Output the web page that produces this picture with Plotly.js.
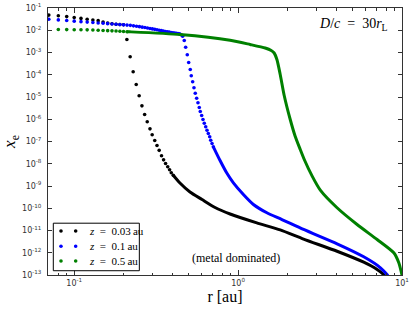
<!DOCTYPE html>
<html>
<head>
<meta charset="utf-8">
<script src="https://cdn.plot.ly/plotly-3.0.1.min.js"></script>
<style>html,body{margin:0;padding:0;background:#fff;}#chart{width:415px;height:313px;}</style>
</head>
<body>
<div id="chart"></div>
<script>
// ---- data (r in au, x_e) ----
// z = 0.03 au : separated dots, then dense (solid-looking) part
const blackDotR = [0.07,0.08,0.09,0.10,0.11,0.12,0.13,0.14,0.15,0.16,0.17,0.18,0.19,0.20,
                   0.2096,0.2195,0.229,0.239,0.249,0.259,0.269,0.279,0.290,0.299,0.310,0.320,0.330,
                   0.341,0.351,0.361,0.372,0.382,0.391,0.402];
const blackDotX = [0.048,0.045,0.041,0.037,0.034,0.031,0.029,0.027,0.0235,0.021,0.0195,0.0186,0.0180,0.0176,
                   3.84e-3,6.4e-4,1.36e-4,3.65e-5,1.13e-5,4.0e-6,1.63e-6,7.7e-7,3.7e-7,2.0e-7,1.11e-7,6.6e-8,4.0e-8,
                   2.3e-8,1.5e-8,1.03e-8,7.3e-9,5.35e-9,3.92e-9,3.05e-9];
const blackLineR = [0.402,0.4418,0.5086,0.6023,0.7234,0.8935,1.301,1.807,2.508,4.016,5.84,7.05,7.74,8.0];
const blackLineX = [3.05e-9,1.36e-9,5.37e-10,2.47e-10,1.08e-10,5.52e-11,2.2e-11,1.06e-11,4.1e-12,1.17e-12,3.76e-13,1.77e-13,1.02e-13,7e-14];

// z = 0.1 au
const blueDotR = [0.07,0.08,0.09,0.10,0.11,0.12,0.13,0.14,0.15,0.16,0.17,0.18,0.19,0.20,
                  0.21,0.22,0.23,0.24,0.25,0.26,0.27,0.28,0.29,0.30,0.31,0.32,0.33,0.34,0.35,
                  0.36,0.37,0.38,0.39,0.40,0.41,0.42,0.43,0.44,0.45,
                  0.4588,0.4694,0.4787,0.4896,0.4994,0.5106,0.5178,0.5281,0.5379,0.5478,0.5587,0.5691,
                  0.5796,0.5878,0.5995,0.6106,0.6219,0.6343,0.6460,0.6579,0.6711,0.6808,0.6934,0.7062];
const blueDotX = [0.0314,0.0292,0.0273,0.0257,0.0244,0.0232,0.0222,0.0213,0.0205,0.0198,0.0191,0.0185,0.0179,0.0175,
                  0.0170,0.0166,0.0158,0.0151,0.0145,0.0138,0.0132,0.0126,0.0120,0.0115,0.0110,0.0105,0.0100,0.0096,0.0091,
                  0.0088,0.0085,0.0082,0.0079,0.0077,0.0075,0.0073,0.0071,0.0069,0.0063,
                  5.41e-3,3.46e-3,1.73e-3,7.88e-4,3.56e-4,1.72e-4,8.97e-5,4.82e-5,2.59e-5,1.48e-5,8.84e-6,5.49e-6,
                  3.37e-6,2.23e-6,1.47e-6,9.75e-7,6.64e-7,4.58e-7,3.22e-7,2.29e-7,1.63e-7,1.14e-7,8.12e-8,5.78e-8];
const blueLineR = [0.7062,0.776,0.853,0.936,1.077,1.24,1.498,1.851,2.508,4.016,5.84,7.39,8.12,8.4];
const blueLineX = [5.78e-8,1.40e-8,3.84e-9,1.39e-9,4.15e-10,1.48e-10,6.25e-11,3.12e-11,1.11e-11,2.52e-12,6.57e-13,2.11e-13,1.02e-13,7e-14];

// z = 0.5 au
const greenDotR = [0.08,0.09,0.10,0.11,0.12,0.13,0.14,0.15,0.16,0.17,0.18,0.19,0.20,0.21];
const greenDotX = [0.0108,0.0107,0.0106,0.0105,0.0104,0.0102,0.0100,0.0098,0.0096,0.0094,0.0092,0.0090,0.0088,0.0086];
const greenLineR = [0.21,0.2184,0.4418,0.8935,1.184,1.463,1.592,1.66,1.725,1.807,1.911,2.080,2.232,2.394,2.533,2.836,3.174,4.016,5.32,7.05,8.91,9.56,10.0];
const greenLineX = [0.0086,0.0085,6.44e-3,3.57e-3,2.29e-3,1.59e-3,1.23e-3,9.5e-4,4.84e-4,1.03e-4,1.17e-5,9.75e-7,1.68e-7,4.37e-8,1.55e-8,2.7e-9,6.5e-10,1.05e-10,1.86e-11,3.94e-12,9.95e-13,3.53e-13,1.0e-13];

const seriesNames = ['<i>z</i>\u2002=\u20020.03\u2009au','<i>z</i>\u2002=\u20020.1\u2009au','<i>z</i>\u2002=\u20020.5\u2009au'];
const seriesColors = ['#000000','#0000ff','#008000'];

const xTickVals = [0.1,1,10];
const xTickText = ['10<sup>-1</sup>','10<sup>0</sup>','10<sup>1</sup>'];
const xMinorVals = [0.08,0.09,0.2,0.3,0.4,0.5,0.6,0.7,0.8,0.9,2,3,4,5,6,7,8,9];
const yTickVals = [1e-1,1e-2,1e-3,1e-4,1e-5,1e-6,1e-7,1e-8,1e-9,1e-10,1e-11,1e-12,1e-13];
const yTickText = ['10<sup>-1</sup>','10<sup>-2</sup>','10<sup>-3</sup>','10<sup>-4</sup>','10<sup>-5</sup>','10<sup>-6</sup>','10<sup>-7</sup>','10<sup>-8</sup>','10<sup>-9</sup>','10<sup>-10</sup>','10<sup>-11</sup>','10<sup>-12</sup>','10<sup>-13</sup>'];

const SERIF = 'Liberation Serif, Times New Roman, DejaVu Serif, serif';

const dots = [[blackDotR,blackDotX],[blueDotR,blueDotX],[greenDotR,greenDotX]];
const lines = [[blackLineR,blackLineX],[blueLineR,blueLineX],[greenLineR,greenLineX]];

const traces = [];
for (let i = 0; i < 3; i++) {
  traces.push({x: lines[i][0], y: lines[i][1], type:'scatter', mode:'lines',
    line:{color:seriesColors[i], width:3, shape:'spline', smoothing:0.6}, showlegend:false, hoverinfo:'skip'});
  traces.push({x: dots[i][0], y: dots[i][1], type:'scatter', mode:'markers', name: seriesNames[i],
    marker:{color:seriesColors[i], size:3.6}, showlegend:false});
}

// hand-drawn legend (matplotlib style: box, two dots per entry, text)
const legX0 = 0.015, legX1 = 0.258, legY0 = 0.016, legY1 = 0.194;
const legRowY = [0.165, 0.1075, 0.0524];
const legDotX = [0.0367, 0.0782];
const legTextX = 0.110;

const shapes = [{type:'rect', xref:'paper', yref:'paper', x0:legX0, x1:legX1, y0:legY0, y1:legY1,
  line:{color:'#000', width:1}, fillcolor:'#ffffff', layer:'above'}];
const annotations = [];
for (let i = 0; i < 3; i++) {
  for (const dx of legDotX) {
    shapes.push({type:'circle', xref:'paper', yref:'paper', xsizemode:'pixel', ysizemode:'pixel',
      xanchor:dx, yanchor:legRowY[i], x0:-1.8, x1:1.8, y0:-1.8, y1:1.8,
      fillcolor:seriesColors[i], line:{width:0}, layer:'above'});
  }
  annotations.push({xref:'paper', yref:'paper', x:legTextX, y:legRowY[i], xanchor:'left', yanchor:'middle',
    showarrow:false, text:seriesNames[i], font:{family:SERIF, size:11, color:'#000'}});
}
annotations.push(
  {xref:'paper', yref:'paper', x:0.862, y:0.938, xanchor:'center', yanchor:'middle', showarrow:false,
   text:'<i>D</i>/<i>c</i>\u2002=\u200230<i>r</i><sub>L</sub>', font:{family:SERIF, size:14, color:'#000'}},
  {xref:'paper', yref:'paper', x:0.531, y:0.062, xanchor:'center', yanchor:'middle', showarrow:false,
   text:'(metal dominated)', font:{family:SERIF, size:12, color:'#000'}}
);

const axisCommon = {
  showgrid:false, zeroline:false, showline:true, linecolor:'#333', linewidth:1,
  mirror:'allticks', ticks:'inside', tickcolor:'#333', tickwidth:1,
  tickfont:{family:'DejaVu Sans', size:8, color:'#333'}
};

const layout = {
  width:415, height:313,
  margin:{l:48, r:13, t:8, b:38},
  paper_bgcolor:'#ffffff', plot_bgcolor:'#ffffff',
  showlegend:false,
  xaxis: Object.assign({}, axisCommon, {
    type:'log', range:[Math.log10(0.0692), 1],
    tickmode:'array', tickvals:xTickVals, ticktext:xTickText, ticklen:5,
    minor:{tickmode:'array', tickvals:xMinorVals, ticks:'inside', ticklen:2.5, tickcolor:'#333', showgrid:false},
    title:{text:'r [au]', font:{family:SERIF, size:16, color:'#000'}, standoff:3}
  }),
  yaxis: Object.assign({}, axisCommon, {
    type:'log', range:[-13, -1],
    tickmode:'array', tickvals:yTickVals, ticktext:yTickText, ticklen:4,
    ticklabelstandoff:4,
    title:{text:'<i>x</i><sub>e</sub>', font:{family:SERIF, size:17, color:'#000'}, standoff:3}
  }),
  shapes: shapes,
  annotations: annotations
};

Plotly.newPlot('chart', traces, layout, {displayModeBar:false, staticPlot:true});
</script>
</body>
</html>
